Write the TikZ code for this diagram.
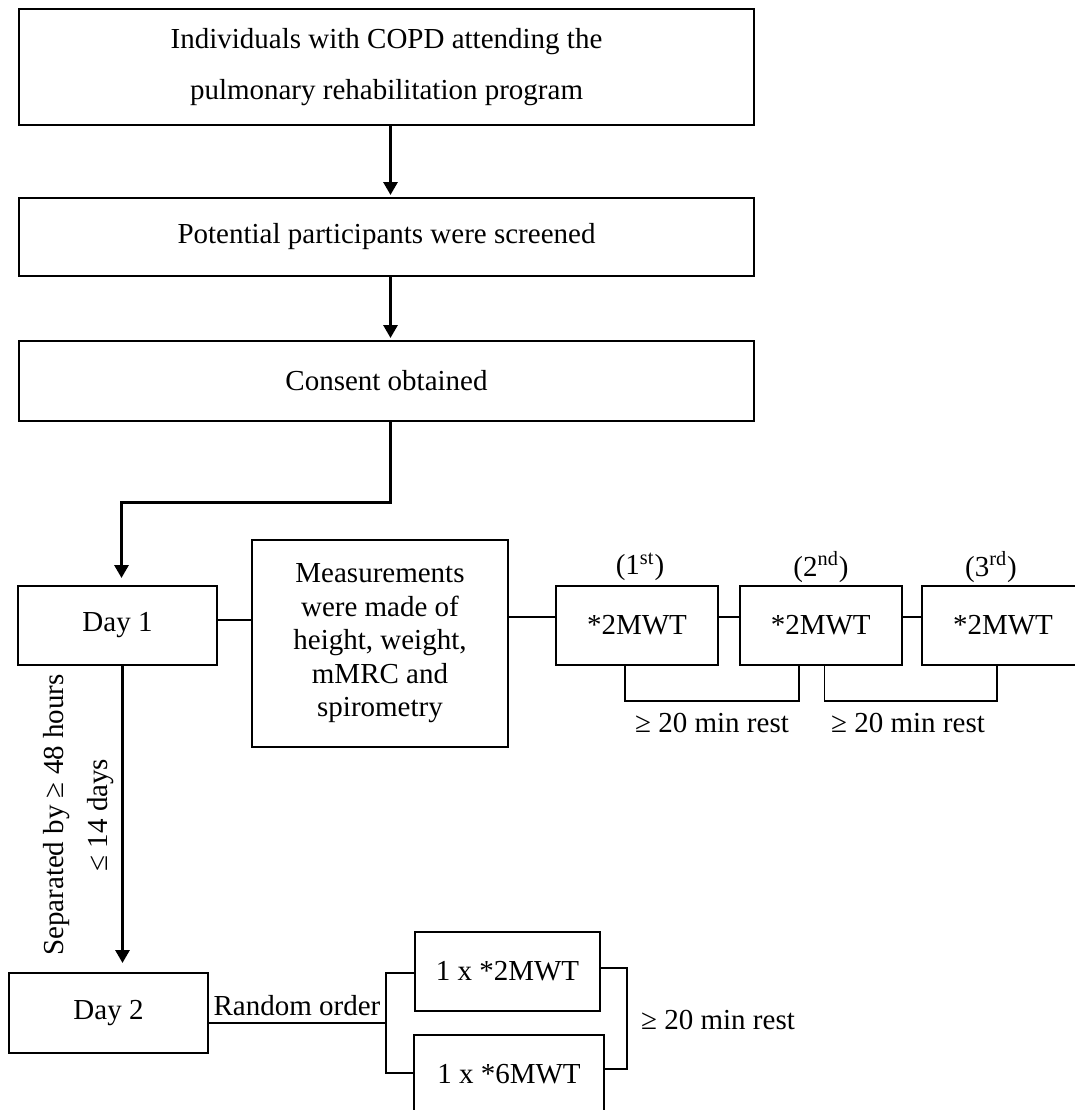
\documentclass[tikz,border=0pt]{standalone}
\usepackage{fontspec}
\setmainfont{Liberation Serif}
\usetikzlibrary{arrows.meta,calc}
\begin{document}
\begin{tikzpicture}[x=0.5pt,y=-0.5pt,
  font=\fontsize{14.5pt}{17pt}\selectfont,
  box/.style={draw,line width=1pt,inner sep=0pt,outer sep=0pt,align=center},
  flow/.style={line width=1.5pt,-{Triangle[width=7pt,length=6.5pt]}},
  link/.style={line width=0.75pt},
]
\useasboundingbox (0,0) rectangle (1075,1110);
\clip (0,0) rectangle (1075,1110);

% main sequence
\node[box,minimum width=367.5pt,minimum height=58pt,
      font=\fontsize{14.5pt}{25.5pt}\selectfont] (cohort) at (386.5,67)
  {Individuals with COPD attending the\\pulmonary rehabilitation program};
\node[box,minimum width=367.5pt,minimum height=39pt] (screen) at (386.5,237)
  {Potential participants were screened};
\node[box,minimum width=367.5pt,minimum height=40pt] (consent) at (386.5,381)
  {Consent obtained};

% day 1
\node[box,minimum width=99.5pt,minimum height=39.5pt] (day1) at (117.5,625.5) {Day 1};
\node[box,minimum width=128pt,minimum height=103.5pt,
      font=\fontsize{14.5pt}{16.75pt}\selectfont] (meas) at (380,643.5)
  {Measurements\\were made of\\height, weight,\\mMRC and\\spirometry};
\node[box,minimum width=81pt,minimum height=39.5pt] (w1) at (637,625.5) {*2MWT};
\node[box,minimum width=81pt,minimum height=39.5pt] (w2) at (820.75,625.5) {*2MWT};
\node[box,minimum width=81pt,minimum height=39.5pt] (w3) at (1003,625.5) {*2MWT};
\node (o1) at (640,567) {(1\textsuperscript{st})};
\node (o2) at (821,567) {(2\textsuperscript{nd})};
\node (o3) at (991,567) {(3\textsuperscript{rd})};
\node (rest1) at (712,723) {≥ 20 min rest};
\node (rest2) at (908,723) {≥ 20 min rest};

% day 2
\node[box,minimum width=99.5pt,minimum height=40pt] (day2) at (108.5,1013) {Day 2};
\node[box,minimum width=92.5pt,minimum height=39.5pt] (r1) at (507.5,971.5) {1 x *2MWT};
\node[box,minimum width=95pt,minimum height=39.5pt] (r2) at (509,1074.5) {1 x *6MWT};
\node (rest3) at (718,1020) {≥ 20 min rest};

\node[rotate=90,align=center,font=\fontsize{14.5pt}{22pt}\selectfont] (gap) at (78.5,815)
  {Separated by ≥ 48 hours\\≤ 14 days};

% arrows
\draw[flow,shorten >=1.5pt] ([xshift=2pt]cohort.south) -- ([xshift=2pt]screen.north);
\draw[flow,shorten >=1.5pt] ([xshift=2pt]screen.south) -- ([xshift=2pt]consent.north);
\coordinate (bend) at (121.5,502);
\draw[flow,shorten >=4pt] ([xshift=2pt]consent.south) |- (bend) -- ([xshift=2pt]day1.north);
\draw[flow,shorten >=5pt] ([xshift=2.5pt]day1.south) -- ([xshift=2.5pt]day1.south |- day2.north);

% day 1 links
\draw[link] ([yshift=2.75pt]day1.east) -- ([yshift=2.75pt]day1.east -| meas.west);
\draw[link] ([yshift=4.25pt]w1.west) -- ([yshift=4.25pt]w1.west -| meas.east);
\draw[link] ([yshift=4.25pt]w2.west) -- ([yshift=4.25pt]w2.west -| w1.east);
\draw[link] ([yshift=4.25pt]w3.west) -- ([yshift=4.25pt]w3.west -| w2.east);
\draw[link] ([xshift=-6pt]w1.south) -- ++(0,-18pt) -| ([xshift=-10.9pt]w2.south);
\draw[link] ([xshift=1.9pt]w2.south) -- ++(0,-18pt) -| ([xshift=-3pt]w3.south);

% day 2 links
\coordinate (fork) at (386,1023);
\draw[link] ([yshift=-5pt]day2.east) -- node[above,inner sep=3pt] (rand) {Random order} (fork);
\draw[link] ([yshift=-0.75pt]r1.west) -| (fork) |- ([yshift=0.75pt]r2.west);
\draw[link] ([yshift=1.75pt]r1.east) -- ++(13.5pt,0) |- ([yshift=2.75pt]r2.east);
\end{tikzpicture}
\end{document}
